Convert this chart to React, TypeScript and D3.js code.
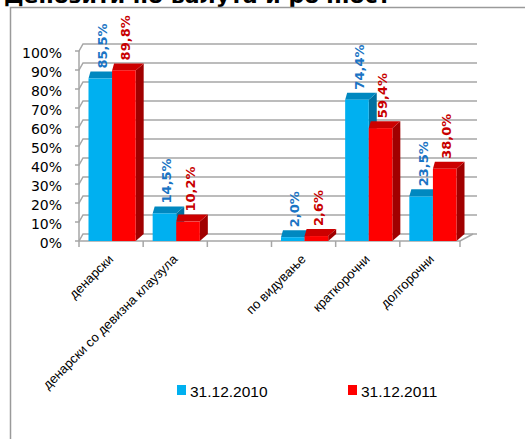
import React, { useRef, useEffect } from 'react';
import * as d3 from 'd3';

const TITLE = 'Депозити по валута и рочност';
const CATEGORIES = ['денарски', 'денарски со девизна клаузула', '', 'по видување', 'краткорочни', 'долгорочни'];
const SERIES = ['31.12.2010', '31.12.2011'];
const VALUES_2010 = [85.5, 14.5, null, 2.0, 74.4, 23.5];
const VALUES_2011 = [89.8, 10.2, null, 2.6, 59.4, 38.0];
const Y_TICKS = [0, 10, 20, 30, 40, 50, 60, 70, 80, 90, 100];

const COLORS = [
  { front: '#00b0f0', top: '#0088c0', side: '#0070a0', label: '#1a74c4' },
  { front: '#ff0000', top: '#cc0000', side: '#a00000', label: '#c80000' },
];

const FONT = 'DejaVu Sans, Verdana, sans-serif';
const FONT_NARROW = 'Liberation Sans, Arial, sans-serif';

const App: React.FC = () => {
  const ref = useRef<SVGSVGElement>(null);
  const width = 525;
  const height = 439;

  useEffect(() => {
    if (!ref.current) return;
    const svg = d3.select(ref.current);
    svg.selectAll('*').remove();

    const x = d3.scaleBand<number>().domain(d3.range(CATEGORIES.length)).range([79, 464]);
    const y = d3.scaleLinear().domain([0, 100]).range([241, 51]);
    const x1 = d3.scaleBand<number>().domain([0, 1]).range([1, x.bandwidth() + 1]).paddingOuter(0.36);

    // depth offsets
    const wallDx = 4;
    const wallDy = -7;
    const floorDxRight = 13;
    const barDxL = 2;
    const barDxR = 8;
    const barDy = -7;
    const x0 = x.range()[0];
    const xEnd = x.range()[1];

    // frame + title (cut off at the top, as in the original)
    svg.append('text')
      .attr('x', 4)
      .attr('y', 3)
      .attr('font-family', FONT)
      .attr('font-weight', 'bold')
      .attr('font-size', 22)
      .attr('fill', '#000')
      .text(TITLE);

    svg.append('path')
      .attr('d', `M10.5,${height} V7.5 H${width}`)
      .attr('fill', 'none')
      .attr('stroke', '#9a9a9a')
      .attr('stroke-width', 1.5);

    const grid = svg.append('g').attr('stroke', '#a6a6a6').attr('stroke-width', 1.5).attr('fill', 'none');

    // back wall gridlines and left wall diagonals
    Y_TICKS.forEach(t => {
      const yy = y(t);
      grid.append('path')
        .attr('d', `M${x0 - 4},${yy} H${x0} L${x0 + wallDx},${yy + wallDy} H${xEnd + floorDxRight}`);
    });
    // y axis
    grid.append('line')
      .attr('x1', x0).attr('x2', x0)
      .attr('y1', y(0)).attr('y2', y(100));
    // floor
    grid.append('path')
      .attr('d', `M${x0},${y(0)} H${xEnd - 4} L${xEnd - 4 + floorDxRight},${y(0) + wallDy}`);
    // x ticks
    d3.range(CATEGORIES.length + 1).forEach(i => {
      const px = i === CATEGORIES.length ? xEnd - 4 : (x(i) as number);
      grid.append('line')
        .attr('x1', px).attr('x2', px)
        .attr('y1', y(0)).attr('y2', y(0) + 6);
    });

    // y tick labels
    svg.append('g')
      .selectAll('text')
      .data(Y_TICKS)
      .join('text')
      .attr('x', 62)
      .attr('y', d => y(d) + 2)
      .attr('dy', '0.35em')
      .attr('text-anchor', 'end')
      .attr('font-family', FONT)
      .attr('font-size', 14)
      .attr('fill', '#000')
      .text(d => `${d}%`);

    // bars
    const series = [VALUES_2010, VALUES_2011];
    const bars = svg.append('g');
    const labels = svg.append('g');
    const fmt = (v: number) => d3.format('.1f')(v).replace('.', ',') + '%';

    CATEGORIES.forEach((_, ci) => {
      series.forEach((vals, si) => {
        const v = vals[ci];
        if (v == null) return;
        const bx0 = (x(ci) as number) + (x1(si) as number);
        const bx1 = bx0 + x1.bandwidth();
        const yt = y(v);
        const yb = y(0);
        const c = COLORS[si];
        // side face
        bars.append('path')
          .attr('d', `M${bx1},${yt} L${bx1 + barDxR},${yt + barDy} V${yb + barDy} L${bx1},${yb} Z`)
          .attr('fill', c.side);
        // top face
        bars.append('path')
          .attr('d', `M${bx0},${yt} H${bx1} L${bx1 + barDxR},${yt + barDy} H${bx0 + barDxL} Z`)
          .attr('fill', c.top);
        // front face
        bars.append('rect')
          .attr('x', bx0)
          .attr('y', yt)
          .attr('width', bx1 - bx0)
          .attr('height', yb - yt)
          .attr('fill', c.front);

        const lx = (bx0 + bx1) / 2 + 2;
        const ly = yt + barDy - 3;
        labels.append('text')
          .attr('transform', `translate(${lx},${ly}) rotate(-90)`)
          .attr('dy', '0.35em')
          .attr('text-anchor', 'start')
          .attr('font-family', FONT)
          .attr('font-weight', 'bold')
          .attr('font-size', 13)
          .attr('fill', c.label)
          .text(fmt(v));
      });
    });

    // category labels
    svg.append('g')
      .selectAll('text')
      .data(CATEGORIES)
      .join('text')
      .attr('transform', (_, i) => `translate(${(x(i) as number) + x.bandwidth() / 2 + 3},${y(0) + 19}) rotate(-45)`)
      .attr('text-anchor', 'end')
      .attr('font-family', FONT_NARROW)
      .attr('font-size', 13)
      .attr('fill', '#000')
      .text(d => d);

    // legend
    const legendX = [177, 348];
    const legend = svg.append('g');
    SERIES.forEach((s, i) => {
      legend.append('rect')
        .attr('x', legendX[i])
        .attr('y', 385)
        .attr('width', 9)
        .attr('height', 10)
        .attr('fill', COLORS[i].front);
      legend.append('text')
        .attr('x', legendX[i] + 13)
        .attr('y', 397)
        .attr('font-family', FONT_NARROW)
        .attr('font-size', 15.5)
        .attr('fill', '#000')
        .text(s);
    });
  }, []);

  return (
    <svg
      ref={ref}
      width={width}
      height={height}
      style={{ position: 'absolute', left: 0, top: 0, background: '#fff' }}
    />
  );
};

export default App;
